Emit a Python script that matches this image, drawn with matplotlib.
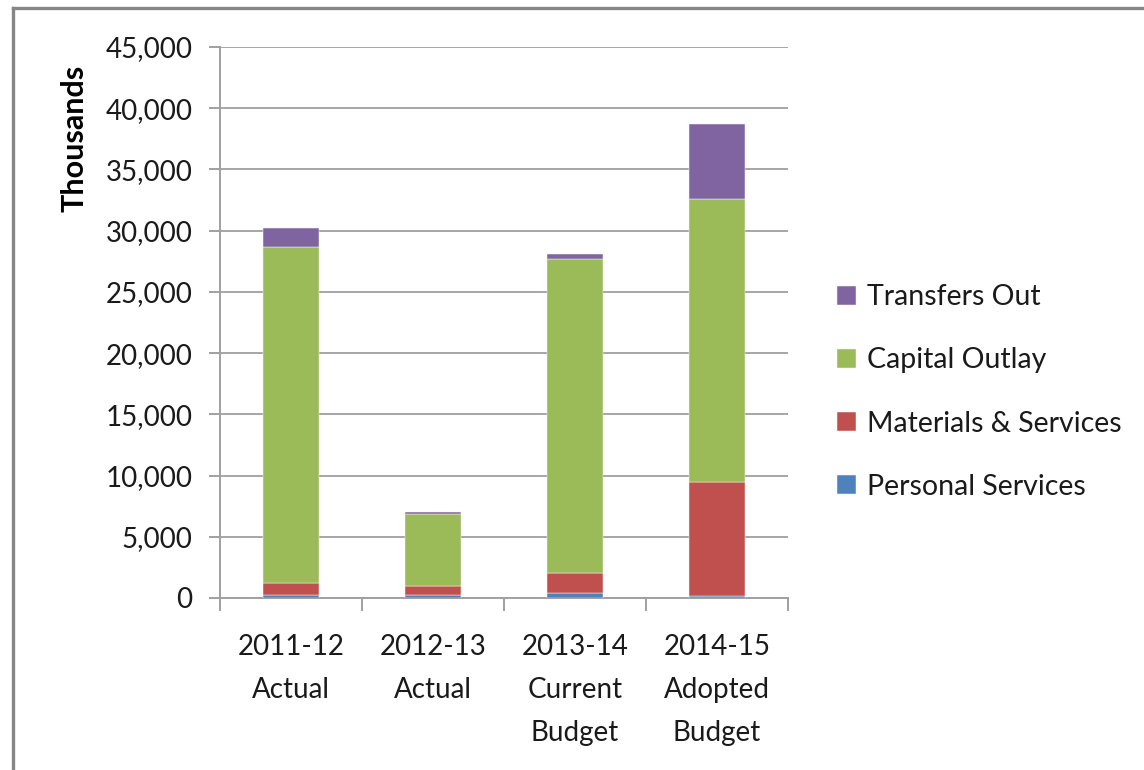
import matplotlib
matplotlib.use("Agg")
import matplotlib.pyplot as plt
from matplotlib.ticker import FuncFormatter, MultipleLocator
from matplotlib.lines import Line2D

categories = ["2011-12\nActual", "2012-13\nActual", "2013-14\nCurrent\nBudget", "2014-15\nAdopted\nBudget"]
personal_services = [270, 270, 410, 140]
materials_services = [990, 740, 1670, 9370]
capital_outlay = [27410, 5850, 25580, 23070]
transfers_out = [1520, 130, 440, 6120]

series = [
    ("Personal Services", personal_services, "#4F81BD"),
    ("Materials & Services", materials_services, "#C0504D"),
    ("Capital Outlay", capital_outlay, "#9BBB59"),
    ("Transfers Out", transfers_out, "#8064A2"),
]

plt.rcParams['font.family'] = ['Lato', 'DejaVu Sans']
FS = 20

W, H = 1144, 770
fig = plt.figure(figsize=(W / 100, H / 100), dpi=100)
ax = fig.add_axes([220 / W, 1 - 598 / H, (788 - 220) / W, (598 - 47) / H])

x = list(range(len(categories)))
bottom = [0] * len(categories)
handles = []
for name, vals, col in series:
    b = ax.bar(x, vals, width=0.4, bottom=bottom, color=col, edgecolor="#f4f4f4",
               linewidth=0.35, label=name, zorder=3)
    handles.append(b)
    bottom = [bb + v for bb, v in zip(bottom, vals)]

ax.set_xlim(-0.5, len(categories) - 0.5)
ax.set_ylim(0, 45000)
ax.yaxis.set_major_locator(MultipleLocator(5000))
ax.yaxis.set_major_formatter(FuncFormatter(lambda v, p: f"{int(v):,}"))
ax.grid(axis="y", color="#A6A6A6", linewidth=1.4, zorder=0)
ax.set_axisbelow(True)

for s in ["top", "right"]:
    ax.spines[s].set_visible(False)
for s in ["left", "bottom"]:
    ax.spines[s].set_color("#A0A0A0")
    ax.spines[s].set_linewidth(1.4)

ax.set_xticks(x)
ax.set_xticklabels(categories, fontsize=FS, linespacing=1.8, color="#1a1a1a")
ax.tick_params(axis="x", which="major", length=0, pad=26)
ax.set_xticks([i - 0.5 for i in range(len(categories) + 1)], minor=True)
ax.tick_params(axis="x", which="minor", length=9.5, width=1.4, color="#A0A0A0", direction="out")
ax.tick_params(axis="y", which="major", length=8, width=1.4, color="#A0A0A0",
               direction="out", pad=12, labelsize=FS, labelcolor="#1a1a1a")

fig.text(75 / W, 1 - 138 / H, "Thousands", rotation=90, ha="center", va="center",
         fontsize=22, fontweight="bold", color="black")

leg = fig.legend(handles=handles[::-1], labels=[s[0] for s in series][::-1],
                 loc="center left", bbox_to_anchor=(837 / W, 1 - 392 / H),
                 frameon=False, fontsize=20.5, handlelength=0.68, handleheight=0.68,
                 handletextpad=0.38, labelspacing=1.3, borderpad=0, borderaxespad=0)
for t in leg.get_texts():
    t.set_color("#1a1a1a")

# outer frame (top and left edges visible)
fig.add_artist(Line2D([12.5 / W, 1.0], [1 - 7.5 / H, 1 - 7.5 / H], transform=fig.transFigure,
                      color="#868686", linewidth=2.4))
fig.add_artist(Line2D([12.5 / W, 12.5 / W], [0, 1 - 7.5 / H], transform=fig.transFigure,
                      color="#868686", linewidth=2.4))

fig.savefig("out.png", dpi=100)
